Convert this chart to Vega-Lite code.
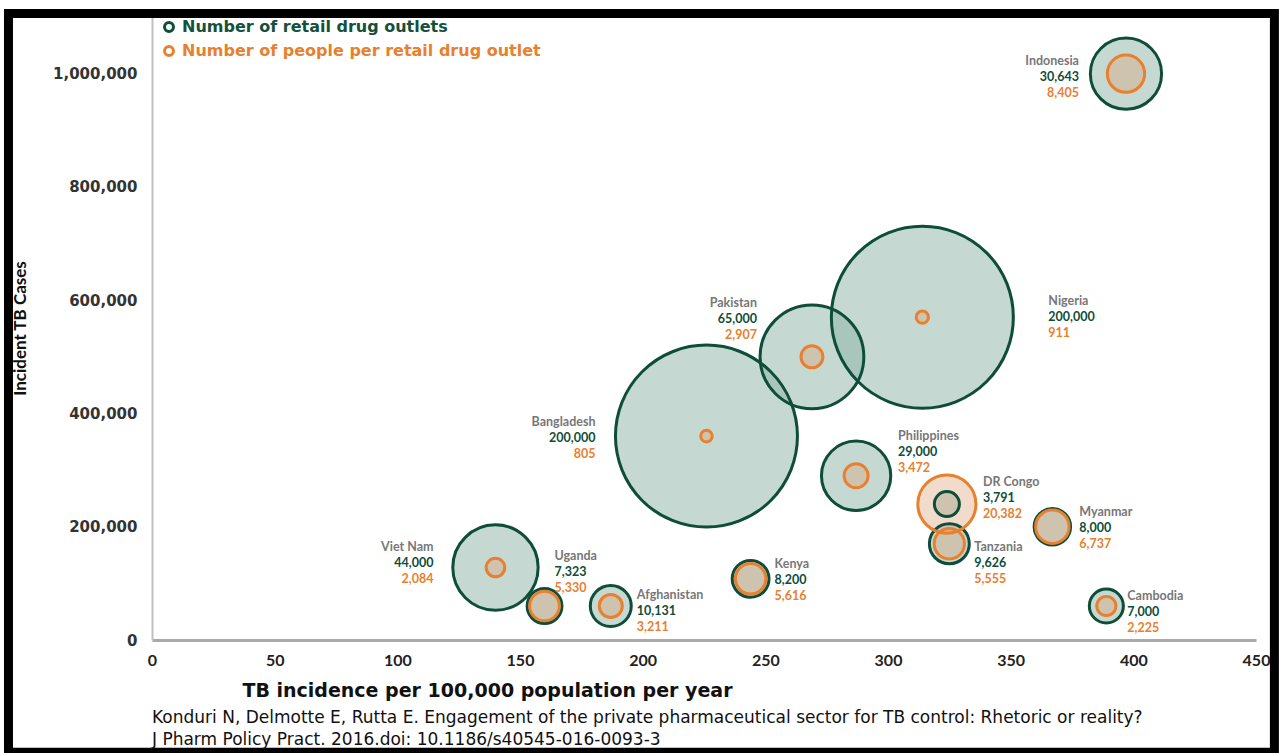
{
  "$schema": "https://vega.github.io/schema/vega-lite/v6.json",
  "width": 1104,
  "height": 623,
  "autosize": {"type": "none"},
  "padding": {"left": 152, "top": 17, "right": 23, "bottom": 113},
  "background": "white",
  "config": {
    "view": {"stroke": null},
    "font": "Open Sans",
    "axisX": {
      "domainColor": "#a9a9a9", "domainWidth": 3, "ticks": false, "grid": false,
      "labelFont": "Lato", "labelFontWeight": "bold", "labelFontSize": 16, "labelColor": "#222222",
      "labelPadding": 12, "labelFlush": false, "labelOverlap": false,
      "titleFont": "DejaVu Sans", "titleFontWeight": "bold", "titleFontSize": 19, "titleColor": "#111111",
      "titleX": 335, "titleY": 50, "titleBaseline": "middle", "titleAlign": "center"
    },
    "axisY": {
      "domainColor": "#bfbfbf", "domainWidth": 2, "ticks": false, "grid": false,
      "labelFont": "DejaVu Sans", "labelFontWeight": "bold", "labelFontSize": 15, "labelColor": "#333333",
      "labelPadding": 15, "labelFlush": false, "labelOverlap": false,
      "labelExpr": "format(datum.value, ',')",
      "titleFont": "Lato", "titleFontWeight": "bold", "titleFontSize": 17, "titleColor": "#111111",
      "titleX": -132, "titleY": 311, "titleBaseline": "middle", "titleAlign": "center", "titleAngle": -90
    }
  },
  "title": {
    "text": ["Konduri N, Delmotte E, Rutta E. Engagement of the private pharmaceutical sector for TB control: Rhetoric or reality?", "J Pharm Policy Pract. 2016.doi: 10.1186/s40545-016-0093-3"],
    "orient": "bottom", "anchor": "start", "frame": "group",
    "font": "DejaVu Sans", "fontSize": 17, "fontWeight": "normal", "color": "#111111",
    "lineHeight": 22, "offset": 0, "dy": -47
  },
  "data": {
    "values": [
      {"country": "Indonesia", "incidence": 397, "cases": 1000000, "series": "Number of retail drug outlets", "value": 30643},
      {"country": "Nigeria", "incidence": 314, "cases": 570000, "series": "Number of retail drug outlets", "value": 200000},
      {"country": "Pakistan", "incidence": 269, "cases": 500000, "series": "Number of retail drug outlets", "value": 65000},
      {"country": "Bangladesh", "incidence": 226, "cases": 360000, "series": "Number of retail drug outlets", "value": 200000},
      {"country": "Philippines", "incidence": 287, "cases": 290000, "series": "Number of retail drug outlets", "value": 29000},
      {"country": "DR Congo", "incidence": 324, "cases": 240000, "series": "Number of retail drug outlets", "value": 3791},
      {"country": "Myanmar", "incidence": 367, "cases": 200000, "series": "Number of retail drug outlets", "value": 8000},
      {"country": "Tanzania", "incidence": 325, "cases": 170000, "series": "Number of retail drug outlets", "value": 9626},
      {"country": "Cambodia", "incidence": 389, "cases": 60000, "series": "Number of retail drug outlets", "value": 7000},
      {"country": "Kenya", "incidence": 244, "cases": 108000, "series": "Number of retail drug outlets", "value": 8200},
      {"country": "Afghanistan", "incidence": 187, "cases": 60000, "series": "Number of retail drug outlets", "value": 10131},
      {"country": "Uganda", "incidence": 160, "cases": 60000, "series": "Number of retail drug outlets", "value": 7323},
      {"country": "Viet Nam", "incidence": 140, "cases": 128000, "series": "Number of retail drug outlets", "value": 44000},
      {"country": "Indonesia", "incidence": 397, "cases": 1000000, "series": "Number of people per retail drug outlet", "value": 8405},
      {"country": "Nigeria", "incidence": 314, "cases": 570000, "series": "Number of people per retail drug outlet", "value": 911},
      {"country": "Pakistan", "incidence": 269, "cases": 500000, "series": "Number of people per retail drug outlet", "value": 2907},
      {"country": "Bangladesh", "incidence": 226, "cases": 360000, "series": "Number of people per retail drug outlet", "value": 805},
      {"country": "Philippines", "incidence": 287, "cases": 290000, "series": "Number of people per retail drug outlet", "value": 3472},
      {"country": "DR Congo", "incidence": 324, "cases": 240000, "series": "Number of people per retail drug outlet", "value": 20382},
      {"country": "Myanmar", "incidence": 367, "cases": 200000, "series": "Number of people per retail drug outlet", "value": 6737},
      {"country": "Tanzania", "incidence": 325, "cases": 170000, "series": "Number of people per retail drug outlet", "value": 5555},
      {"country": "Cambodia", "incidence": 389, "cases": 60000, "series": "Number of people per retail drug outlet", "value": 2225},
      {"country": "Kenya", "incidence": 244, "cases": 108000, "series": "Number of people per retail drug outlet", "value": 5616},
      {"country": "Afghanistan", "incidence": 187, "cases": 60000, "series": "Number of people per retail drug outlet", "value": 3211},
      {"country": "Uganda", "incidence": 160, "cases": 60000, "series": "Number of people per retail drug outlet", "value": 5330},
      {"country": "Viet Nam", "incidence": 140, "cases": 128000, "series": "Number of people per retail drug outlet", "value": 2084}
    ]
  },
  "layer": [
    {
      "mark": {"type": "circle", "opacity": 1, "strokeWidth": 0},
      "encoding": {
        "x": {"field": "incidence", "type": "quantitative", "title": "TB incidence per 100,000 population per year",
              "scale": {"domain": [0, 450], "nice": false, "zero": true},
              "axis": {"values": [0, 50, 100, 150, 200, 250, 300, 350, 400, 450], "format": "d"}},
        "y": {"field": "cases", "type": "quantitative", "title": "Incident TB Cases",
              "scale": {"domain": [0, 1100000], "nice": false, "zero": true},
              "axis": {"values": [0, 200000, 400000, 600000, 800000, 1000000], "format": ","}},
        "size": {"field": "value", "type": "quantitative", "scale": {"domain": [0, 200000], "range": [0, 33124]}, "legend": null},
        "fill": {"field": "series", "type": "nominal",
                 "scale": {"domain": ["Number of people per retail drug outlet", "Number of retail drug outlets"], "range": ["rgba(217,160,115,0.38)", "rgba(140,180,165,0.5)"]},
                 "legend": null}
      }
    },
    {
      "mark": {"type": "point", "shape": "circle", "filled": false, "opacity": 1, "strokeWidth": 3},
      "encoding": {
        "x": {"field": "incidence", "type": "quantitative", "title": "TB incidence per 100,000 population per year", "scale": {"domain": [0, 450], "nice": false, "zero": true},
              "axis": {"values": [0, 50, 100, 150, 200, 250, 300, 350, 400, 450], "format": "d"}},
        "y": {"field": "cases", "type": "quantitative", "title": "Incident TB Cases", "scale": {"domain": [0, 1100000], "nice": false, "zero": true},
              "axis": {"values": [0, 200000, 400000, 600000, 800000, 1000000], "format": ","}},
        "size": {"field": "value", "type": "quantitative", "scale": {"domain": [0, 200000], "range": [0, 33124]}, "legend": null},
        "stroke": {"field": "series", "type": "nominal",
                   "scale": {"domain": ["Number of retail drug outlets", "Number of people per retail drug outlet"], "range": ["#0e4d39", "#e8802f"]},
                   "legend": {"title": null, "orient": "none", "legendX": 9, "legendY": 2, "padding": 0,
                              "symbolType": "circle", "symbolSize": 80, "symbolStrokeWidth": 3, "symbolFillColor": "white",
                              "labelFont": "DejaVu Sans", "labelFontWeight": "bold", "labelFontSize": 16,
                              "labelColor": {"expr": "datum.value == 'Number of retail drug outlets' ? '#14503c' : '#e8802f'"},
                              "labelOffset": 5, "rowPadding": 2, "labelLimit": 600}}
      }
    },
    {
      "transform": [{"filter": "datum.series == 'Number of retail drug outlets'"}],
      "mark": {"type": "text", "font": "Lato", "fontWeight": "bold", "fontSize": 12.5, "color": "#777777", "baseline": "middle",
               "align": {"expr": "indexof(['Indonesia','Pakistan','Bangladesh','Viet Nam'], datum.country) >= 0 ? 'right' : 'left'"},
               "dx": {"expr": "{'Indonesia': -47, 'Pakistan': -55, 'Bangladesh': -111, 'Viet Nam': -62, 'Nigeria': 126, 'Philippines': 42, 'DR Congo': 36, 'Myanmar': 27, 'Tanzania': 25, 'Cambodia': 21, 'Kenya': 24, 'Afghanistan': 26, 'Uganda': 10}[datum.country]"},
               "dy": {"expr": "{'Indonesia': 3, 'Pakistan': -38, 'Bangladesh': 2, 'Viet Nam': -5, 'Nigeria': 0, 'Philippines': -24, 'DR Congo': -6, 'Myanmar': 1, 'Tanzania': 19, 'Cambodia': 6, 'Kenya': 1, 'Afghanistan': 5, 'Uganda': -34}[datum.country] - 16"}},
      "encoding": {
        "x": {"field": "incidence", "type": "quantitative", "title": "TB incidence per 100,000 population per year", "scale": {"domain": [0, 450], "nice": false, "zero": true},
              "axis": {"values": [0, 50, 100, 150, 200, 250, 300, 350, 400, 450], "format": "d"}},
        "y": {"field": "cases", "type": "quantitative", "title": "Incident TB Cases", "scale": {"domain": [0, 1100000], "nice": false, "zero": true},
              "axis": {"values": [0, 200000, 400000, 600000, 800000, 1000000], "format": ","}},
        "text": {"field": "country", "type": "nominal"}
      }
    },
    {
      "transform": [{"filter": "datum.series == 'Number of retail drug outlets'"}],
      "mark": {"type": "text", "font": "Lato", "fontWeight": "bold", "fontSize": 12.5, "color": "#0e4d39", "baseline": "middle",
               "align": {"expr": "indexof(['Indonesia','Pakistan','Bangladesh','Viet Nam'], datum.country) >= 0 ? 'right' : 'left'"},
               "dx": {"expr": "{'Indonesia': -47, 'Pakistan': -55, 'Bangladesh': -111, 'Viet Nam': -62, 'Nigeria': 126, 'Philippines': 42, 'DR Congo': 36, 'Myanmar': 27, 'Tanzania': 25, 'Cambodia': 21, 'Kenya': 24, 'Afghanistan': 26, 'Uganda': 10}[datum.country]"},
               "dy": {"expr": "{'Indonesia': 3, 'Pakistan': -38, 'Bangladesh': 2, 'Viet Nam': -5, 'Nigeria': 0, 'Philippines': -24, 'DR Congo': -6, 'Myanmar': 1, 'Tanzania': 19, 'Cambodia': 6, 'Kenya': 1, 'Afghanistan': 5, 'Uganda': -34}[datum.country]"}},
      "encoding": {
        "x": {"field": "incidence", "type": "quantitative", "title": "TB incidence per 100,000 population per year", "scale": {"domain": [0, 450], "nice": false, "zero": true},
              "axis": {"values": [0, 50, 100, 150, 200, 250, 300, 350, 400, 450], "format": "d"}},
        "y": {"field": "cases", "type": "quantitative", "title": "Incident TB Cases", "scale": {"domain": [0, 1100000], "nice": false, "zero": true},
              "axis": {"values": [0, 200000, 400000, 600000, 800000, 1000000], "format": ","}},
        "text": {"field": "value", "type": "quantitative", "format": ","}
      }
    },
    {
      "transform": [{"filter": "datum.series == 'Number of people per retail drug outlet'"}],
      "mark": {"type": "text", "font": "Lato", "fontWeight": "bold", "fontSize": 12.5, "color": "#e8802f", "baseline": "middle",
               "align": {"expr": "indexof(['Indonesia','Pakistan','Bangladesh','Viet Nam'], datum.country) >= 0 ? 'right' : 'left'"},
               "dx": {"expr": "{'Indonesia': -47, 'Pakistan': -55, 'Bangladesh': -111, 'Viet Nam': -62, 'Nigeria': 126, 'Philippines': 42, 'DR Congo': 36, 'Myanmar': 27, 'Tanzania': 25, 'Cambodia': 21, 'Kenya': 24, 'Afghanistan': 26, 'Uganda': 10}[datum.country]"},
               "dy": {"expr": "{'Indonesia': 3, 'Pakistan': -38, 'Bangladesh': 2, 'Viet Nam': -5, 'Nigeria': 0, 'Philippines': -24, 'DR Congo': -6, 'Myanmar': 1, 'Tanzania': 19, 'Cambodia': 6, 'Kenya': 1, 'Afghanistan': 5, 'Uganda': -34}[datum.country] + 16"}},
      "encoding": {
        "x": {"field": "incidence", "type": "quantitative", "title": "TB incidence per 100,000 population per year", "scale": {"domain": [0, 450], "nice": false, "zero": true},
              "axis": {"values": [0, 50, 100, 150, 200, 250, 300, 350, 400, 450], "format": "d"}},
        "y": {"field": "cases", "type": "quantitative", "title": "Incident TB Cases", "scale": {"domain": [0, 1100000], "nice": false, "zero": true},
              "axis": {"values": [0, 200000, 400000, 600000, 800000, 1000000], "format": ","}},
        "text": {"field": "value", "type": "quantitative", "format": ","}
      }
    },
    {
      "data": {"values": [{}]},
      "mark": {"type": "rect", "fill": "transparent", "stroke": "black", "strokeWidth": 9},
      "encoding": {
        "x": {"datum": -58.5, "type": "quantitative", "title": "TB incidence per 100,000 population per year", "scale": {"domain": [0, 450], "nice": false, "zero": true},
              "axis": {"values": [0, 50, 100, 150, 200, 250, 300, 350, 400, 450], "format": "d"}},
        "x2": {"datum": 457.5},
        "y": {"datum": 1106000, "type": "quantitative", "title": "Incident TB Cases", "scale": {"domain": [0, 1100000], "nice": false, "zero": true},
              "axis": {"values": [0, 200000, 400000, 600000, 800000, 1000000], "format": ","}},
        "y2": {"datum": -198000}
      }
    }
  ]
}
